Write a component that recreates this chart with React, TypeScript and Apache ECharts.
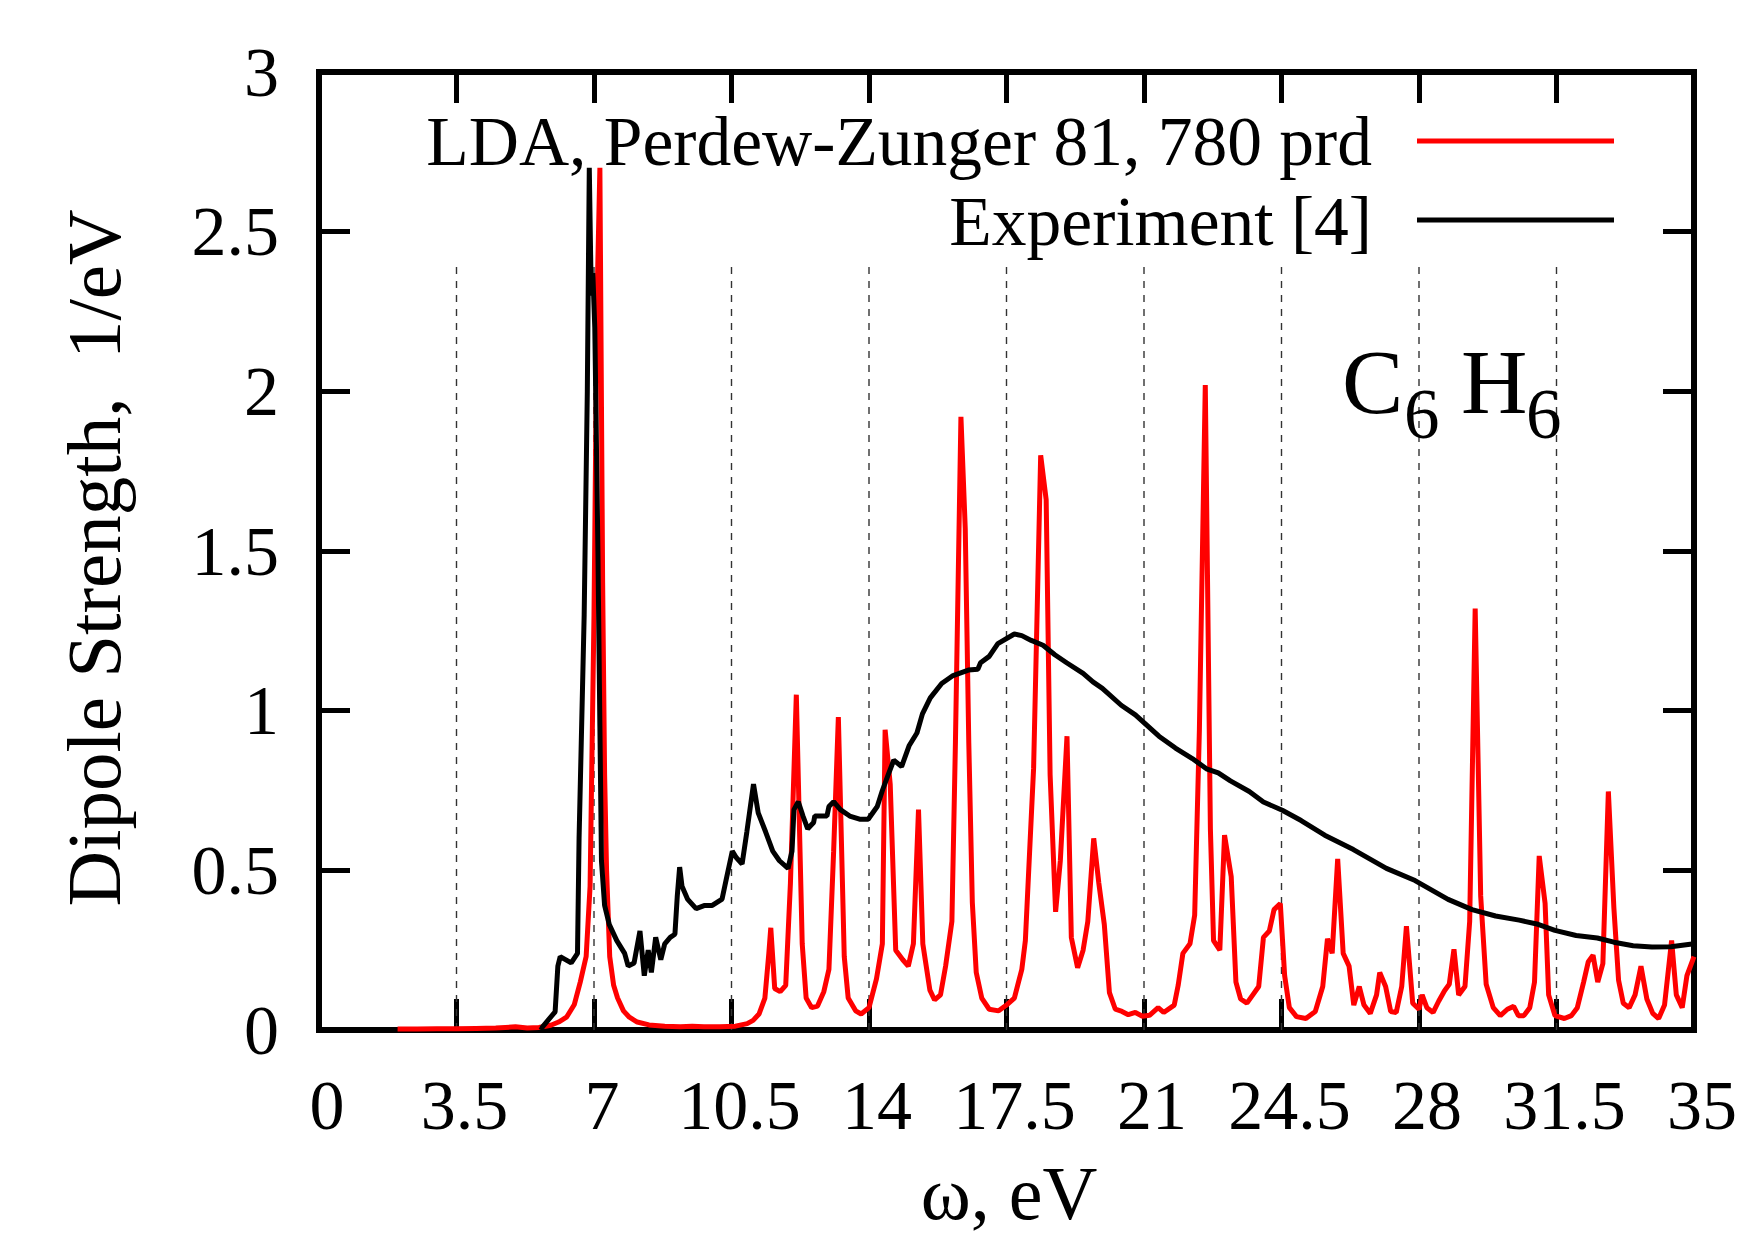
import React, { useEffect, useRef } from "react";
import * as echarts from "echarts";

const ldaName = "LDA, Perdew-Zunger 81, 780 prd";
const expName = "Experiment [4]";

const ldaData: [number, number][] = [
  [2.0, 0.003], [2.5, 0.003], [3.0, 0.004], [3.5, 0.004], [4.0, 0.005], [4.5, 0.006], [5.0, 0.01],
  [5.3, 0.006], [5.6, 0.008], [5.9, 0.015], [6.1, 0.025], [6.3, 0.04], [6.5, 0.08], [6.65, 0.15],
  [6.8, 0.23], [6.9, 0.45], [7.0, 1.3], [7.08, 2.3], [7.15, 2.7], [7.22, 1.4], [7.27, 0.8],
  [7.32, 0.5], [7.4, 0.23], [7.5, 0.14], [7.6, 0.1], [7.75, 0.06], [7.9, 0.04], [8.1, 0.025],
  [8.4, 0.016], [8.8, 0.012], [9.2, 0.01], [9.5, 0.012], [9.8, 0.01], [10.2, 0.01], [10.6, 0.012],
  [10.9, 0.02], [11.05, 0.03], [11.2, 0.05], [11.35, 0.1], [11.45, 0.24], [11.5, 0.32], [11.6, 0.13],
  [11.74, 0.12], [11.88, 0.14], [12.0, 0.46], [12.15, 1.05], [12.3, 0.27], [12.4, 0.1], [12.54, 0.07],
  [12.69, 0.075], [12.85, 0.12], [12.98, 0.19], [13.1, 0.56], [13.22, 0.98], [13.37, 0.23], [13.47, 0.1],
  [13.66, 0.06], [13.8, 0.05], [14.0, 0.07], [14.19, 0.16], [14.34, 0.27], [14.41, 0.94], [14.54, 0.77],
  [14.68, 0.25], [14.86, 0.22], [15.0, 0.2], [15.13, 0.27], [15.26, 0.69], [15.37, 0.27], [15.55, 0.125],
  [15.67, 0.094], [15.82, 0.11], [15.95, 0.2], [16.11, 0.34], [16.2, 0.9], [16.34, 1.92], [16.45, 1.57],
  [16.54, 0.9], [16.63, 0.4], [16.73, 0.18], [16.87, 0.1], [17.06, 0.065], [17.3, 0.06], [17.52, 0.08],
  [17.7, 0.1], [17.89, 0.19], [17.98, 0.28], [18.19, 0.82], [18.37, 1.8], [18.51, 1.66], [18.61, 0.8],
  [18.75, 0.37], [18.87, 0.53], [19.04, 0.92], [19.15, 0.29], [19.31, 0.195], [19.45, 0.25], [19.57, 0.34],
  [19.72, 0.6], [19.85, 0.46], [19.99, 0.33], [20.12, 0.117], [20.27, 0.065], [20.44, 0.058], [20.6, 0.048],
  [20.78, 0.055], [20.96, 0.043], [21.14, 0.046], [21.36, 0.07], [21.5, 0.055], [21.77, 0.078], [21.87, 0.14],
  [21.99, 0.24], [22.17, 0.27], [22.29, 0.36], [22.41, 0.94], [22.56, 2.02], [22.69, 0.63], [22.77, 0.28],
  [22.93, 0.25], [23.05, 0.61], [23.22, 0.48], [23.34, 0.15], [23.46, 0.097], [23.62, 0.084], [23.77, 0.11],
  [23.92, 0.136], [24.04, 0.29], [24.19, 0.31], [24.31, 0.377], [24.47, 0.396], [24.58, 0.17], [24.7, 0.07],
  [24.88, 0.042], [25.12, 0.036], [25.36, 0.058], [25.55, 0.136], [25.67, 0.286], [25.79, 0.24], [25.93, 0.536],
  [26.07, 0.24], [26.22, 0.2], [26.34, 0.078], [26.48, 0.136], [26.6, 0.078], [26.76, 0.052], [26.92, 0.11],
  [27.0, 0.18], [27.15, 0.136], [27.28, 0.058], [27.42, 0.055], [27.56, 0.136], [27.68, 0.325], [27.84, 0.084],
  [28.0, 0.065], [28.08, 0.11], [28.2, 0.07], [28.36, 0.055], [28.5, 0.09], [28.65, 0.123], [28.77, 0.143],
  [28.89, 0.253], [29.01, 0.11], [29.17, 0.136], [29.29, 0.34], [29.43, 1.32], [29.57, 0.42], [29.71, 0.143],
  [29.89, 0.07], [30.07, 0.045], [30.25, 0.065], [30.41, 0.074], [30.53, 0.045], [30.67, 0.045], [30.82, 0.07],
  [30.94, 0.15], [31.06, 0.545], [31.21, 0.396], [31.3, 0.11], [31.46, 0.045], [31.7, 0.036], [31.88, 0.045],
  [32.03, 0.07], [32.19, 0.15], [32.31, 0.214], [32.43, 0.234], [32.55, 0.15], [32.68, 0.208], [32.82, 0.747],
  [32.96, 0.383], [33.08, 0.156], [33.2, 0.084], [33.35, 0.07], [33.5, 0.11], [33.65, 0.2], [33.8, 0.097],
  [33.95, 0.052], [34.1, 0.036], [34.25, 0.078], [34.43, 0.28], [34.55, 0.11], [34.7, 0.07], [34.82, 0.17],
  [35.0, 0.23],
];

const expData: [number, number][] = [
  [5.65, 0.0], [5.69, 0.01], [6.01, 0.057], [6.08, 0.2], [6.14, 0.23], [6.42, 0.21], [6.58, 0.24],
  [6.62, 0.6], [6.75, 1.3], [6.83, 2.0], [6.88, 2.7], [6.93, 2.3], [6.97, 2.37], [7.02, 2.2],
  [7.1, 1.5], [7.15, 0.95], [7.19, 0.53], [7.27, 0.39], [7.39, 0.33], [7.58, 0.28], [7.78, 0.24],
  [7.87, 0.2], [8.02, 0.21], [8.17, 0.31], [8.28, 0.17], [8.38, 0.25], [8.46, 0.18], [8.57, 0.29],
  [8.7, 0.22], [8.8, 0.27], [8.94, 0.29], [9.06, 0.3], [9.12, 0.42], [9.18, 0.51], [9.24, 0.45],
  [9.38, 0.41], [9.6, 0.38], [9.82, 0.39], [10.01, 0.39], [10.26, 0.41], [10.38, 0.48], [10.52, 0.56],
  [10.62, 0.54], [10.77, 0.52], [10.89, 0.62], [11.06, 0.77], [11.18, 0.68], [11.37, 0.62], [11.55, 0.56],
  [11.72, 0.53], [11.94, 0.506], [12.04, 0.56], [12.09, 0.69], [12.2, 0.715], [12.32, 0.67], [12.44, 0.63],
  [12.59, 0.65], [12.62, 0.67], [12.93, 0.67], [12.98, 0.7], [13.1, 0.715], [13.27, 0.69], [13.51, 0.67],
  [13.76, 0.66], [13.98, 0.66], [14.21, 0.7], [14.34, 0.75], [14.49, 0.8], [14.63, 0.845], [14.83, 0.825],
  [15.02, 0.89], [15.22, 0.93], [15.36, 0.99], [15.56, 1.04], [15.85, 1.085], [16.14, 1.11], [16.53, 1.127],
  [16.77, 1.13], [16.84, 1.15], [17.06, 1.17], [17.28, 1.21], [17.7, 1.24], [17.89, 1.235], [18.13, 1.22],
  [18.43, 1.205], [18.73, 1.175], [19.03, 1.15], [19.45, 1.117], [19.7, 1.09], [19.94, 1.07], [20.42, 1.017],
  [20.78, 0.987], [21.38, 0.92], [21.8, 0.883], [22.23, 0.85], [22.59, 0.818], [22.89, 0.805], [23.2, 0.78],
  [23.68, 0.747], [24.04, 0.714], [24.52, 0.688], [25.0, 0.656], [25.6, 0.61], [26.33, 0.565], [27.17, 0.506],
  [27.9, 0.468], [28.74, 0.409], [29.35, 0.377], [29.95, 0.357], [30.55, 0.344], [31.03, 0.331], [31.46, 0.312],
  [32.0, 0.296], [32.54, 0.288], [32.96, 0.275], [33.45, 0.264], [33.93, 0.26], [34.41, 0.261], [34.95, 0.269],
];

const gridX = [3.5, 7, 10.5, 14, 17.5, 21, 24.5, 28, 31.5];
const gridTop = 2.39;

const FONT = '"Liberation Serif", "Times New Roman", serif';

export default function App() {
  const ref = useRef<HTMLDivElement>(null);
  useEffect(() => {
    if (!ref.current) return;
    const chart = echarts.init(ref.current, undefined, { renderer: "svg" });
    const tick = () => ({ show: true, inside: true, length: 31, lineStyle: { color: "#000", width: 5 } });
    const noLine = () => ({ show: false, onZero: false });
    const xLabel = { fontSize: 70, fontFamily: FONT, color: "#000", margin: 40, padding: [0, 0, 0, 16] };
    const yLabel = { fontSize: 70, fontFamily: FONT, color: "#000", margin: 40 };
    chart.setOption({
      animation: false,
      backgroundColor: "#fff",
      grid: {
        left: 319, top: 72, width: 1375, height: 958,
        show: true, borderColor: "#000", borderWidth: 6, backgroundColor: "transparent",
      },
      xAxis: [
        {
          type: "value", min: 0, max: 35, interval: 3.5, position: "bottom",
          axisLine: noLine(), axisTick: tick(), axisLabel: xLabel, splitLine: { show: false },
        },
        {
          type: "value", min: 0, max: 35, interval: 3.5, position: "top",
          axisLine: noLine(), axisTick: tick(), axisLabel: { show: false }, splitLine: { show: false },
        },
      ],
      yAxis: [
        {
          type: "value", min: 0, max: 3, interval: 0.5, position: "left",
          axisLine: noLine(), axisTick: tick(), axisLabel: yLabel, splitLine: { show: false },
        },
        {
          type: "value", min: 0, max: 3, interval: 0.5, position: "right",
          axisLine: noLine(), axisTick: tick(), axisLabel: { show: false }, splitLine: { show: false },
        },
      ],
      series: [
        {
          type: "custom", xAxisIndex: 0, yAxisIndex: 0, z: 1, silent: true,
          data: gridX.map((v) => [v, gridTop]),
          encode: { x: 0, y: 1 },
          renderItem: (params: any, api: any) => {
            const x = api.value(0);
            const a = api.coord([x, 0]);
            const b = api.coord([x, api.value(1)]);
            return {
              type: "line",
              shape: { x1: a[0], y1: a[1], x2: b[0], y2: b[1] },
              style: { stroke: "#333", lineWidth: 1.4, lineDash: [7, 7] },
            };
          },
        },
        {
          name: ldaName, type: "line", data: ldaData, showSymbol: false, symbol: "none", z: 3,
          lineStyle: { color: "#ff0000", width: 5 }, itemStyle: { color: "#ff0000" },
        },
        {
          name: expName, type: "line", data: expData, showSymbol: false, symbol: "none", z: 4,
          lineStyle: { color: "#000", width: 5 }, itemStyle: { color: "#000" },
        },
      ],
      graphic: [
        {
          type: "text", x: 1372, y: 141, z: 10,
          style: { text: ldaName, fontSize: 69.5, fontFamily: FONT, fill: "#000", align: "right", verticalAlign: "middle" },
        },
        {
          type: "line", z: 10, shape: { x1: 1417, y1: 141, x2: 1614, y2: 141 },
          style: { stroke: "#ff0000", lineWidth: 5 },
        },
        {
          type: "text", x: 1372, y: 221, z: 10,
          style: { text: expName, fontSize: 69.5, fontFamily: FONT, fill: "#000", align: "right", verticalAlign: "middle" },
        },
        {
          type: "line", z: 10, shape: { x1: 1417, y1: 220, x2: 1614, y2: 220 },
          style: { stroke: "#000", lineWidth: 5 },
        },
        {
          type: "text", x: 1342, y: 382, z: 10,
          style: { text: "C", fontSize: 92, fontFamily: FONT, fill: "#000", align: "left", verticalAlign: "middle" },
        },
        {
          type: "text", x: 1404, y: 414, z: 10,
          style: { text: "6", fontSize: 71, fontFamily: FONT, fill: "#000", align: "left", verticalAlign: "middle" },
        },
        {
          type: "text", x: 1461, y: 382, z: 10,
          style: { text: "H", fontSize: 92, fontFamily: FONT, fill: "#000", align: "left", verticalAlign: "middle" },
        },
        {
          type: "text", x: 1526, y: 414, z: 10,
          style: { text: "6", fontSize: 71, fontFamily: FONT, fill: "#000", align: "left", verticalAlign: "middle" },
        },
        {
          type: "text", x: 1009, y: 1193, z: 10,
          style: { text: "ω, eV", fontSize: 76, fontFamily: FONT, fill: "#000", align: "center", verticalAlign: "middle" },
        },
        {
          type: "text", x: 94, y: 558, rotation: Math.PI / 2, z: 10,
          style: { text: "Dipole Strength,  1/eV", fontSize: 77, fontFamily: FONT, fill: "#000", align: "center", verticalAlign: "middle" },
        },
      ],
    });
    return () => chart.dispose();
  }, []);
  return (
    <div
      ref={ref}
      style={{ position: "fixed", left: 0, top: 0, width: 1745, height: 1235, background: "#fff" }}
    />
  );
}
